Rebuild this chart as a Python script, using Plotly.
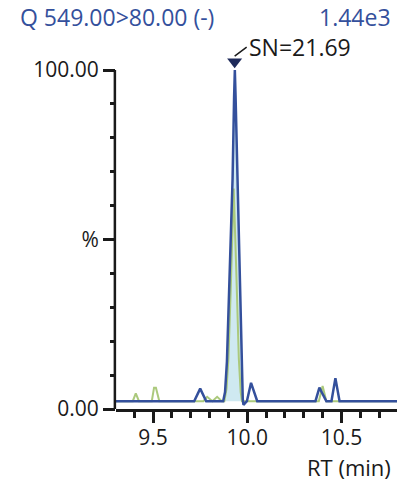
import plotly.graph_objects as go

# Blue trace (quantifier) vertices: retention time (min) and relative intensity (%)
blue_rt = [9.30, 9.718, 9.750, 9.782, 9.872, 9.882, 9.892, 9.902, 9.912, 9.922,
           9.930, 9.934, 9.938, 9.946, 9.955, 9.963, 9.970, 9.976, 9.980, 9.998,
           10.020, 10.053, 10.362, 10.383, 10.420, 10.447, 10.468, 10.490, 10.80]
blue_int = [2.3, 2.3, 6.0, 2.3, 2.3, 5.0, 14.0, 30.0, 50.0, 68.0,
            92.0, 100.0, 92.0, 72.0, 50.0, 30.0, 12.0, 3.0, 1.2, 2.3,
            7.7, 2.3, 2.3, 6.3, 2.3, 2.3, 9.1, 2.3, 2.3]

# Green trace (qualifier) vertices
green_rt = [9.30, 9.392, 9.408, 9.425, 9.493, 9.505, 9.515, 9.533, 9.767, 9.787,
            9.815, 9.840, 9.865, 9.878, 9.890, 9.900, 9.912, 9.928, 9.942, 9.955,
            9.965, 9.972, 10.380, 10.400, 10.420, 10.80]
green_int = [2.3, 2.3, 4.6, 2.3, 2.3, 6.3, 6.3, 2.3, 2.3, 3.6,
             2.3, 3.6, 2.3, 2.3, 6.0, 15.0, 35.0, 65.0, 40.0, 15.0,
             5.0, 2.3, 2.3, 6.8, 2.3, 2.3]

# Integrated peak area (filled)
fill_rt = blue_rt[4:19]
fill_int = blue_int[4:19]
baseline = 2.3

apex_rt = 9.933
apex_int = 100.0

title_left = "Q 549.00>80.00 (-)"
title_right = "1.44e3"
sn_label = "SN=21.69"

x_ticks = [9.5, 10.0, 10.5]
x_ticktext = ["9.5", "10.0", "10.5"]
y_ticks = [0, 50, 100]
y_ticktext = ["0.00", "%", "100.00"]
y_minor = [10, 20, 30, 40, 60, 70, 80, 90]

BLUE = "#34509c"
GREEN = "#abc97c"
FILL = "#cfe9f1"
NAVY = "#1e2a5a"
TXT = "#1a1a1a"
FONT = "Open Sans"

# figure geometry (body margin removed by post_script)
W, H = 407, 485
ML, MR, MT, MB = 116, 10, 29, 76
PW, PH = W - ML - MR, H - MT - MB
Y_TOP = 100 + (70 - MT) / 3.39


def px(p):
    return (p - ML) / PW


def py(p):
    return (H - MB - p) / PH


fig = go.Figure()

fig.add_trace(go.Scatter(
    x=fill_rt + [fill_rt[-1], fill_rt[0]],
    y=fill_int + [baseline, baseline],
    fill="toself", fillcolor=FILL, mode="none", hoverinfo="skip", showlegend=False))

fig.add_trace(go.Scatter(x=green_rt, y=green_int, mode="lines",
                         line=dict(color=GREEN, width=2), showlegend=False))
fig.add_trace(go.Scatter(x=blue_rt, y=blue_int, mode="lines",
                         line=dict(color=BLUE, width=2.5), showlegend=False))

fig.add_trace(go.Scatter(x=[apex_rt], y=[apex_int + 2.4], mode="markers",
                         marker=dict(symbol="triangle-down", size=13, color=NAVY),
                         cliponaxis=False, showlegend=False))

fig.update_layout(
    width=W, height=H,
    margin=dict(l=ML, r=MR, t=MT, b=MB, autoexpand=False),
    paper_bgcolor="white", plot_bgcolor="white",
    font=dict(family=FONT, size=21, color=TXT),
    showlegend=False,
    xaxis=dict(range=[9.303, 10.795], showgrid=False, zeroline=False,
               showline=True, linecolor=TXT, linewidth=2.5,
               ticks="outside", ticklen=11, tickwidth=2.5, tickcolor=TXT,
               tickvals=x_ticks, ticktext=x_ticktext, ticklabelstandoff=-3,
               tickfont=dict(size=21, color=TXT),
               minor=dict(dtick=0.1, tick0=9.0, ticks="outside", ticklen=6,
                          tickwidth=2.5, tickcolor=TXT, showgrid=False)),
    yaxis=dict(range=[0, Y_TOP], showgrid=False, zeroline=False,
               showline=False,
               ticks="outside", ticklen=12, tickwidth=2.5, tickcolor=TXT,
               tickvals=y_ticks, ticktext=y_ticktext,
               tickfont=dict(size=21, color=TXT),
               minor=dict(tickvals=y_minor, ticks="outside", ticklen=5,
                          tickwidth=2.5, tickcolor=TXT, showgrid=False)),
)

# y axis line only from 0 to 100 %
fig.add_shape(type="line", xref="paper", yref="y", x0=-0.004, x1=-0.004, y0=0, y1=100,
              line=dict(color=TXT, width=2.5))

fig.add_annotation(text=title_left, xref="paper", yref="paper", x=px(18), y=py(17),
                   xanchor="left", yanchor="middle", showarrow=False,
                   font=dict(size=23, color=BLUE, family=FONT))
fig.add_annotation(text=title_right, xref="paper", yref="paper", x=px(393), y=py(17),
                   xanchor="right", yanchor="middle", showarrow=False,
                   font=dict(size=23, color=BLUE, family=FONT))
fig.add_annotation(text="RT (min)", xref="paper", yref="paper", x=px(393), y=py(467),
                   xanchor="right", yanchor="middle", showarrow=False,
                   font=dict(size=22, color=TXT, family=FONT))
fig.add_annotation(text=sn_label, x=apex_rt, y=apex_int + 4.1, xref="x", yref="y",
                   showarrow=True, arrowhead=0, arrowwidth=1.5, arrowcolor=TXT,
                   ax=12, ay=-9, xanchor="left", yanchor="middle",
                   font=dict(size=23, color=TXT, family=FONT))

fig.write_html("out.html", config={"displayModeBar": False},
               post_script="document.body.style.margin='0';document.body.style.padding='0';")
